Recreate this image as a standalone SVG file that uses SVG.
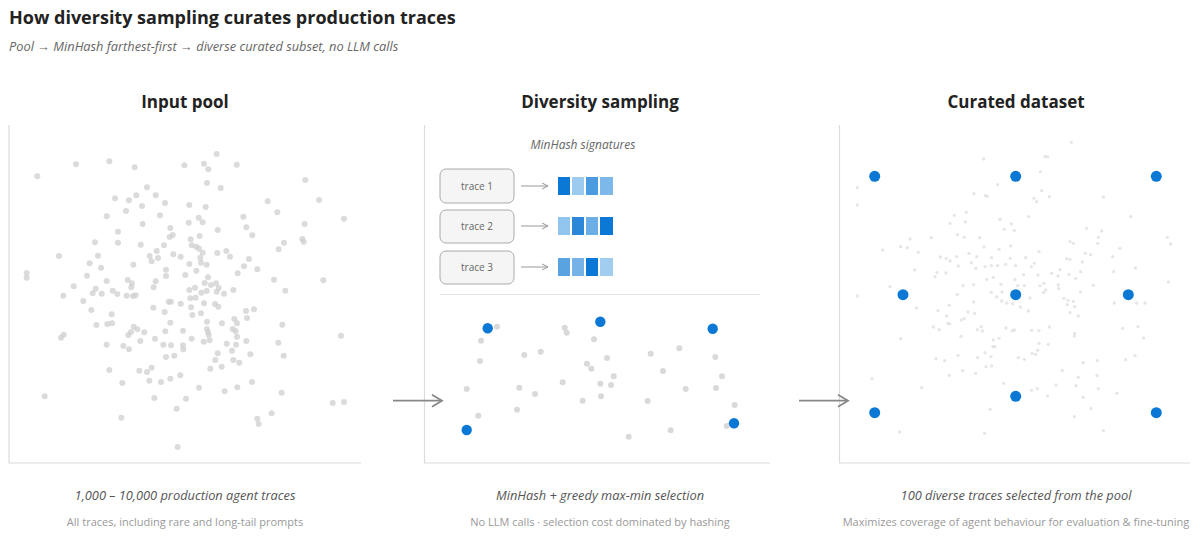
<svg xmlns="http://www.w3.org/2000/svg" width="1200" height="538" viewBox="0 0 1200 538">
<style>
text{font-family:"Open Sans","Noto Sans","Liberation Sans",sans-serif}
.title{font-size:18px;font-weight:700;fill:#222}
.sub{font-size:12.8px;font-style:italic;fill:#666}
.ptitle{font-size:17px;font-weight:700;fill:#222;text-anchor:middle}
.cap1{font-size:12.8px;font-style:italic;fill:#555;text-anchor:middle}
.cap2{font-size:11px;fill:#999;text-anchor:middle}
.axis{stroke:#dcdcdc;stroke-width:1.2;fill:none}
.sep{stroke:#e6e6e6;stroke-width:1;fill:none}
.d1 circle{fill:#cfcfcf;fill-opacity:.75}
.d2 circle{fill:#cfcfcf;fill-opacity:.8}
.d3 circle{fill:#dcdcdc;fill-opacity:.7}
.blue{fill:#0a78d4}
.box{fill:#f5f5f5;stroke:#aaaaaa;stroke-width:1}
.btxt{font-size:10px;fill:#666;text-anchor:middle}
.sarr{stroke:#999;stroke-width:1;fill:none}
.barr{stroke:#888;stroke-width:1.8;fill:none}
.mh{font-size:12px;font-style:italic;fill:#666;text-anchor:middle}
</style>
<defs>
<marker id="sm" markerWidth="8" markerHeight="8" refX="7" refY="4" orient="auto" markerUnits="userSpaceOnUse"><path d="M1,1 L7,4 L1,7" fill="none" stroke="#999" stroke-width="1"/></marker>
<marker id="bm" markerWidth="14" markerHeight="16" refX="12" refY="8" orient="auto" markerUnits="userSpaceOnUse"><path d="M2,2 L12,8 L2,14" fill="none" stroke="#888" stroke-width="1.8"/></marker>
</defs>
<rect width="1200" height="538" fill="#ffffff"/>
<text class="title" x="9" y="24">How diversity sampling curates production traces</text>
<text class="sub" x="9" y="51">Pool → MinHash farthest-first → diverse curated subset, no LLM calls</text>

<g id="panel-input">
<text class="ptitle" x="185" y="108">Input pool</text>
<path class="axis" d="M9,125 V463 H361"/>
<g class="d1" transform="translate(0,120) scale(0.33333)">
<circle cx="650" cy="102" r="9"/><circle cx="228" cy="133" r="9"/><circle cx="328" cy="124" r="9"/><circle cx="404" cy="142" r="9"/><circle cx="553" cy="136" r="9"/><circle cx="612" cy="131" r="9"/><circle cx="625" cy="148" r="9"/><circle cx="710" cy="134" r="9"/><circle cx="112" cy="169" r="9"/><circle cx="916" cy="180" r="9"/><circle cx="621" cy="189" r="9"/><circle cx="662" cy="204" r="9"/><circle cx="441" cy="202" r="9"/><circle cx="467" cy="226" r="9"/><circle cx="345" cy="235" r="9"/><circle cx="387" cy="241" r="9"/><circle cx="409" cy="226" r="9"/><circle cx="495" cy="249" r="9"/><circle cx="568" cy="255" r="9"/><circle cx="617" cy="261" r="9"/><circle cx="803" cy="244" r="9"/><circle cx="957" cy="240" r="9"/><circle cx="378" cy="273" r="9"/><circle cx="426" cy="258" r="9"/><circle cx="832" cy="277" r="9"/><circle cx="1032" cy="296" r="9"/><circle cx="320" cy="289" r="9"/><circle cx="480" cy="286" r="9"/><circle cx="730" cy="290" r="9"/><circle cx="596" cy="293" r="9"/><circle cx="608" cy="307" r="9"/><circle cx="566" cy="308" r="9"/><circle cx="428" cy="312" r="9"/><circle cx="914" cy="312" r="9"/><circle cx="511" cy="324" r="9"/><circle cx="653" cy="330" r="9"/><circle cx="739" cy="322" r="9"/><circle cx="354" cy="335" r="9"/><circle cx="518" cy="345" r="9"/><circle cx="509" cy="351" r="9"/><circle cx="599" cy="348" r="9"/><circle cx="757" cy="346" r="9"/><circle cx="285" cy="367" r="9"/><circle cx="354" cy="368" r="9"/><circle cx="422" cy="374" r="9"/><circle cx="492" cy="376" r="9"/><circle cx="572" cy="358" r="9"/><circle cx="575" cy="376" r="9"/><circle cx="589" cy="380" r="9"/><circle cx="597" cy="386" r="9"/><circle cx="608" cy="398" r="9"/><circle cx="652" cy="399" r="9"/><circle cx="679" cy="393" r="9"/><circle cx="690" cy="410" r="9"/><circle cx="836" cy="388" r="9"/><circle cx="852" cy="368" r="9"/><circle cx="907" cy="357" r="9"/><circle cx="911" cy="365" r="9"/><circle cx="177" cy="408" r="9"/><circle cx="294" cy="407" r="9"/><circle cx="449" cy="408" r="9"/><circle cx="470" cy="393" r="9"/><circle cx="474" cy="414" r="9"/><circle cx="455" cy="424" r="9"/><circle cx="520" cy="403" r="9"/><circle cx="542" cy="410" r="9"/><circle cx="601" cy="413" r="9"/><circle cx="603" cy="428" r="9"/><circle cx="620" cy="434" r="9"/><circle cx="747" cy="417" r="9"/><circle cx="269" cy="430" r="9"/><circle cx="303" cy="443" r="9"/><circle cx="400" cy="434" r="9"/><circle cx="568" cy="432" r="9"/><circle cx="732" cy="439" r="9"/><circle cx="772" cy="448" r="9"/><circle cx="80" cy="459" r="9"/><circle cx="80" cy="473" r="9"/><circle cx="261" cy="467" r="9"/><circle cx="498" cy="449" r="9"/><circle cx="498" cy="468" r="9"/><circle cx="556" cy="465" r="9"/><circle cx="589" cy="452" r="9"/><circle cx="624" cy="472" r="9"/><circle cx="713" cy="460" r="9"/><circle cx="970" cy="481" r="9"/><circle cx="822" cy="479" r="9"/><circle cx="320" cy="483" r="9"/><circle cx="383" cy="480" r="9"/><circle cx="396" cy="490" r="9"/><circle cx="394" cy="502" r="9"/><circle cx="467" cy="484" r="9"/><circle cx="461" cy="502" r="9"/><circle cx="614" cy="489" r="9"/><circle cx="633" cy="495" r="9"/><circle cx="648" cy="490" r="9"/><circle cx="656" cy="504" r="9"/><circle cx="700" cy="510" r="9"/><circle cx="221" cy="499" r="9"/><circle cx="287" cy="506" r="9"/><circle cx="190" cy="527" r="9"/><circle cx="278" cy="520" r="9"/><circle cx="305" cy="521" r="9"/><circle cx="338" cy="512" r="9"/><circle cx="352" cy="522" r="9"/><circle cx="380" cy="527" r="9"/><circle cx="399" cy="528" r="9"/><circle cx="407" cy="526" r="9"/><circle cx="568" cy="510" r="9"/><circle cx="585" cy="503" r="9"/><circle cx="604" cy="518" r="9"/><circle cx="620" cy="513" r="9"/><circle cx="650" cy="515" r="9"/><circle cx="672" cy="521" r="9"/><circle cx="856" cy="512" r="9"/><circle cx="250" cy="543" r="9"/><circle cx="506" cy="545" r="9"/><circle cx="513" cy="545" r="9"/><circle cx="542" cy="551" r="9"/><circle cx="571" cy="535" r="9"/><circle cx="587" cy="533" r="9"/><circle cx="612" cy="550" r="9"/><circle cx="645" cy="552" r="9"/><circle cx="655" cy="560" r="9"/><circle cx="460" cy="563" r="9"/><circle cx="494" cy="576" r="9"/><circle cx="573" cy="562" r="9"/><circle cx="577" cy="585" r="9"/><circle cx="603" cy="580" r="9"/><circle cx="274" cy="570" r="9"/><circle cx="335" cy="583" r="9"/><circle cx="322" cy="612" r="9"/><circle cx="336" cy="610" r="9"/><circle cx="289" cy="615" r="9"/><circle cx="738" cy="573" r="9"/><circle cx="762" cy="568" r="9"/><circle cx="741" cy="594" r="9"/><circle cx="511" cy="608" r="9"/><circle cx="621" cy="605" r="9"/><circle cx="666" cy="610" r="9"/><circle cx="703" cy="597" r="9"/><circle cx="711" cy="610" r="9"/><circle cx="847" cy="614" r="9"/><circle cx="401" cy="620" r="9"/><circle cx="412" cy="628" r="9"/><circle cx="393" cy="636" r="9"/><circle cx="385" cy="645" r="9"/><circle cx="433" cy="637" r="9"/><circle cx="496" cy="634" r="9"/><circle cx="549" cy="632" r="9"/><circle cx="621" cy="627" r="9"/><circle cx="624" cy="637" r="9"/><circle cx="626" cy="645" r="9"/><circle cx="698" cy="627" r="9"/><circle cx="707" cy="633" r="9"/><circle cx="711" cy="650" r="9"/><circle cx="183" cy="653" r="9"/><circle cx="191" cy="644" r="9"/><circle cx="1023" cy="647" r="9"/><circle cx="320" cy="674" r="9"/><circle cx="370" cy="678" r="9"/><circle cx="387" cy="688" r="9"/><circle cx="421" cy="663" r="9"/><circle cx="465" cy="656" r="9"/><circle cx="490" cy="674" r="9"/><circle cx="513" cy="676" r="9"/><circle cx="549" cy="676" r="9"/><circle cx="550" cy="688" r="9"/><circle cx="575" cy="656" r="9"/><circle cx="611" cy="665" r="9"/><circle cx="629" cy="661" r="9"/><circle cx="680" cy="671" r="9"/><circle cx="708" cy="674" r="9"/><circle cx="739" cy="663" r="9"/><circle cx="835" cy="668" r="9"/><circle cx="498" cy="711" r="9"/><circle cx="523" cy="707" r="9"/><circle cx="653" cy="700" r="9"/><circle cx="646" cy="720" r="9"/><circle cx="696" cy="692" r="9"/><circle cx="700" cy="720" r="9"/><circle cx="718" cy="728" r="9"/><circle cx="751" cy="703" r="9"/><circle cx="851" cy="707" r="9"/><circle cx="328" cy="750" r="9"/><circle cx="418" cy="752" r="9"/><circle cx="441" cy="756" r="9"/><circle cx="455" cy="743" r="9"/><circle cx="631" cy="746" r="9"/><circle cx="665" cy="740" r="9"/><circle cx="367" cy="789" r="9"/><circle cx="448" cy="782" r="9"/><circle cx="483" cy="786" r="9"/><circle cx="511" cy="776" r="9"/><circle cx="541" cy="766" r="9"/><circle cx="597" cy="803" r="9"/><circle cx="674" cy="814" r="9"/><circle cx="712" cy="802" r="9"/><circle cx="756" cy="786" r="9"/><circle cx="845" cy="818" r="9"/><circle cx="134" cy="829" r="9"/><circle cx="463" cy="834" r="9"/><circle cx="558" cy="836" r="9"/><circle cx="998" cy="849" r="9"/><circle cx="1032" cy="846" r="9"/><circle cx="530" cy="866" r="9"/><circle cx="815" cy="880" r="9"/><circle cx="772" cy="896" r="9"/><circle cx="776" cy="912" r="9"/><circle cx="364" cy="893" r="9"/><circle cx="533" cy="981" r="9"/>
</g>
<text class="cap1" x="185" y="500">1,000 – 10,000 production agent traces</text>
<text class="cap2" x="185" y="526">All traces, including rare and long-tail prompts</text>
</g>

<g id="panel-sampling">
<text class="ptitle" x="600" y="108">Diversity sampling</text>
<path class="axis" d="M424.5,125 V463 H770"/>
<text class="mh" x="583" y="149">MinHash signatures</text>
<g id="trace1">
<rect class="box" x="440" y="169" width="74" height="34" rx="6"/>
<text class="btxt" x="477" y="189.5">trace 1</text>
<rect x="558" y="177" width="12" height="18" fill="#0a78d4"/><rect x="572" y="177" width="12" height="18" fill="#9ccbef"/><rect x="586" y="177" width="12" height="18" fill="#4a9be0"/><rect x="600" y="177" width="13" height="18" fill="#7cb8ea"/>
</g>
<g id="trace2">
<rect class="box" x="440" y="210" width="74" height="33" rx="6"/>
<text class="btxt" x="477" y="230">trace 2</text>
<rect x="558" y="217" width="12" height="18" fill="#92c5ee"/><rect x="572" y="217" width="12" height="18" fill="#2b88d8"/><rect x="586" y="217" width="12" height="18" fill="#6cafe6"/><rect x="600" y="217" width="13" height="18" fill="#0a78d4"/>
</g>
<g id="trace3">
<rect class="box" x="440" y="251" width="74" height="33" rx="6"/>
<text class="btxt" x="477" y="271">trace 3</text>
<rect x="558" y="258" width="12" height="18" fill="#5aa3e1"/><rect x="572" y="258" width="12" height="18" fill="#74b2e8"/><rect x="586" y="258" width="12" height="18" fill="#0a78d4"/><rect x="600" y="258" width="13" height="18" fill="#a0cdf0"/>
</g>
<line class="sep" x1="440" y1="294.5" x2="760" y2="294.5"/>
<g class="d2">
<circle cx="497" cy="326.7" r="3"/><circle cx="481" cy="340.7" r="3"/><circle cx="480" cy="361" r="3"/><circle cx="466.7" cy="389" r="3"/><circle cx="478.3" cy="415.7" r="3"/><circle cx="524.3" cy="355" r="3"/><circle cx="540.7" cy="351.7" r="3"/><circle cx="519.3" cy="387.7" r="3"/><circle cx="535" cy="394" r="3"/><circle cx="517" cy="409.7" r="3"/><circle cx="564.7" cy="327.7" r="3"/><circle cx="566.7" cy="332.7" r="3"/><circle cx="562.7" cy="382.3" r="3"/><circle cx="582.7" cy="400.7" r="3"/><circle cx="594" cy="339.3" r="3"/><circle cx="587" cy="363.7" r="3"/><circle cx="591.3" cy="368.7" r="3"/><circle cx="607" cy="358" r="3"/><circle cx="613.7" cy="376.3" r="3"/><circle cx="611" cy="385" r="3"/><circle cx="600.3" cy="383.7" r="3"/><circle cx="601" cy="396.3" r="3"/><circle cx="628.7" cy="436.7" r="3"/><circle cx="650.7" cy="353.7" r="3"/><circle cx="647.7" cy="401" r="3"/><circle cx="663" cy="371" r="3"/><circle cx="679.3" cy="348.3" r="3"/><circle cx="685.7" cy="389" r="3"/><circle cx="670.7" cy="430.3" r="3"/><circle cx="715.3" cy="357" r="3"/><circle cx="722" cy="376.3" r="3"/><circle cx="716" cy="388" r="3"/><circle cx="734.7" cy="405" r="3"/><circle cx="726.7" cy="426" r="3"/>
</g>
<circle class="blue" cx="487.7" cy="328.3" r="5.2"/><circle class="blue" cx="600.3" cy="321.7" r="5.2"/><circle class="blue" cx="712.7" cy="328.7" r="5.2"/><circle class="blue" cx="466.7" cy="430" r="5.2"/><circle class="blue" cx="734" cy="423.3" r="5.2"/>
<text class="cap1" x="600" y="500">MinHash + greedy max-min selection</text>
<text class="cap2" x="600" y="526">No LLM calls · selection cost dominated by hashing</text>
</g>

<g id="panel-curated">
<text class="ptitle" x="1016" y="108">Curated dataset</text>
<path class="axis" d="M839.5,125 V463 H1190"/>
<g class="d3" transform="translate(830,120) scale(0.33333)">
<circle cx="724" cy="67" r="5"/><circle cx="645" cy="110" r="5"/><circle cx="653" cy="110" r="5"/><circle cx="461" cy="117" r="5"/><circle cx="631" cy="155" r="5"/><circle cx="82" cy="203" r="5"/><circle cx="503" cy="194" r="5"/><circle cx="635" cy="212" r="5"/><circle cx="658" cy="230" r="5"/><circle cx="466" cy="227" r="5"/><circle cx="472" cy="229" r="5"/><circle cx="432" cy="221" r="5"/><circle cx="612" cy="235" r="5"/><circle cx="620" cy="245" r="5"/><circle cx="820" cy="231" r="5"/><circle cx="82" cy="255" r="5"/><circle cx="596" cy="290" r="5"/><circle cx="902" cy="290" r="5"/><circle cx="510" cy="298" r="5"/><circle cx="373" cy="286" r="5"/><circle cx="409" cy="277" r="5"/><circle cx="406" cy="306" r="5"/><circle cx="360" cy="310" r="5"/><circle cx="544" cy="312" r="5"/><circle cx="523" cy="328" r="5"/><circle cx="553" cy="331" r="5"/><circle cx="770" cy="325" r="5"/><circle cx="815" cy="333" r="5"/><circle cx="805" cy="352" r="5"/><circle cx="803" cy="370" r="5"/><circle cx="1012" cy="352" r="5"/><circle cx="1022" cy="372" r="5"/><circle cx="383" cy="344" r="5"/><circle cx="403" cy="352" r="5"/><circle cx="449" cy="353" r="5"/><circle cx="304" cy="353" r="5"/><circle cx="240" cy="357" r="5"/><circle cx="212" cy="380" r="5"/><circle cx="232" cy="383" r="5"/><circle cx="158" cy="390" r="5"/><circle cx="265" cy="397" r="5"/><circle cx="542" cy="378" r="5"/><circle cx="507" cy="388" r="5"/><circle cx="462" cy="381" r="5"/><circle cx="417" cy="400" r="5"/><circle cx="440" cy="410" r="5"/><circle cx="485" cy="413" r="5"/><circle cx="380" cy="410" r="5"/><circle cx="349" cy="415" r="5"/><circle cx="360" cy="423" r="5"/><circle cx="331" cy="411" r="5"/><circle cx="627" cy="395" r="5"/><circle cx="587" cy="413" r="5"/><circle cx="541" cy="415" r="5"/><circle cx="710" cy="416" r="5"/><circle cx="720" cy="418" r="5"/><circle cx="720" cy="365" r="5"/><circle cx="730" cy="370" r="5"/><circle cx="766" cy="400" r="5"/><circle cx="782" cy="404" r="5"/><circle cx="757" cy="426" r="5"/><circle cx="848" cy="410" r="5"/><circle cx="870" cy="385" r="5"/><circle cx="916" cy="444" r="5"/><circle cx="254" cy="450" r="5"/><circle cx="348" cy="459" r="5"/><circle cx="385" cy="438" r="5"/><circle cx="424" cy="428" r="5"/><circle cx="438" cy="445" r="5"/><circle cx="465" cy="440" r="5"/><circle cx="503" cy="437" r="5"/><circle cx="484" cy="437" r="5"/><circle cx="527" cy="433" r="5"/><circle cx="557" cy="437" r="5"/><circle cx="581" cy="464" r="5"/><circle cx="604" cy="440" r="5"/><circle cx="613" cy="430" r="5"/><circle cx="624" cy="465" r="5"/><circle cx="665" cy="460" r="5"/><circle cx="690" cy="449" r="5"/><circle cx="684" cy="468" r="5"/><circle cx="717" cy="463" r="5"/><circle cx="737" cy="475" r="5"/><circle cx="752" cy="455" r="5"/><circle cx="851" cy="455" r="5"/><circle cx="630" cy="497" r="5"/><circle cx="642" cy="490" r="5"/><circle cx="583" cy="497" r="5"/><circle cx="555" cy="479" r="5"/><circle cx="563" cy="497" r="5"/><circle cx="513" cy="493" r="5"/><circle cx="490" cy="472" r="5"/><circle cx="470" cy="478" r="5"/><circle cx="431" cy="494" r="5"/><circle cx="399" cy="497" r="5"/><circle cx="321" cy="458" r="5"/><circle cx="315" cy="470" r="5"/><circle cx="180" cy="500" r="5"/><circle cx="82" cy="528" r="5"/><circle cx="259" cy="564" r="5"/><circle cx="324" cy="572" r="5"/><circle cx="358" cy="556" r="5"/><circle cx="382" cy="523" r="5"/><circle cx="431" cy="546" r="5"/><circle cx="414" cy="576" r="5"/><circle cx="434" cy="580" r="5"/><circle cx="403" cy="596" r="5"/><circle cx="394" cy="600" r="5"/><circle cx="350" cy="588" r="5"/><circle cx="359" cy="612" r="5"/><circle cx="484" cy="517" r="5"/><circle cx="500" cy="531" r="5"/><circle cx="515" cy="543" r="5"/><circle cx="516" cy="516" r="5"/><circle cx="530" cy="549" r="5"/><circle cx="571" cy="561" r="5"/><circle cx="548" cy="551" r="5"/><circle cx="595" cy="573" r="5"/><circle cx="600" cy="534" r="5"/><circle cx="641" cy="517" r="5"/><circle cx="647" cy="510" r="5"/><circle cx="685" cy="495" r="5"/><circle cx="686" cy="506" r="5"/><circle cx="702" cy="535" r="5"/><circle cx="714" cy="541" r="5"/><circle cx="730" cy="544" r="5"/><circle cx="712" cy="554" r="5"/><circle cx="734" cy="560" r="5"/><circle cx="745" cy="588" r="5"/><circle cx="751" cy="516" r="5"/><circle cx="790" cy="496" r="5"/><circle cx="853" cy="549" r="5"/><circle cx="920" cy="549" r="5"/><circle cx="945" cy="549" r="5"/><circle cx="1015" cy="486" r="5"/><circle cx="310" cy="621" r="5"/><circle cx="328" cy="629" r="5"/><circle cx="353" cy="610" r="5"/><circle cx="393" cy="649" r="5"/><circle cx="442" cy="629" r="5"/><circle cx="454" cy="620" r="5"/><circle cx="457" cy="633" r="5"/><circle cx="495" cy="680" r="5"/><circle cx="490" cy="660" r="5"/><circle cx="507" cy="655" r="5"/><circle cx="528" cy="624" r="5"/><circle cx="547" cy="632" r="5"/><circle cx="553" cy="630" r="5"/><circle cx="605" cy="631" r="5"/><circle cx="627" cy="632" r="5"/><circle cx="658" cy="621" r="5"/><circle cx="720" cy="578" r="5"/><circle cx="734" cy="640" r="5"/><circle cx="733" cy="648" r="5"/><circle cx="878" cy="625" r="5"/><circle cx="924" cy="620" r="5"/><circle cx="941" cy="654" r="5"/><circle cx="212" cy="656" r="5"/><circle cx="318" cy="716" r="5"/><circle cx="344" cy="722" r="5"/><circle cx="358" cy="766" r="5"/><circle cx="384" cy="706" r="5"/><circle cx="398" cy="752" r="5"/><circle cx="437" cy="760" r="5"/><circle cx="443" cy="713" r="5"/><circle cx="465" cy="698" r="5"/><circle cx="483" cy="710" r="5"/><circle cx="468" cy="740" r="5"/><circle cx="485" cy="738" r="5"/><circle cx="489" cy="680" r="5"/><circle cx="565" cy="713" r="5"/><circle cx="583" cy="718" r="5"/><circle cx="606" cy="700" r="5"/><circle cx="617" cy="703" r="5"/><circle cx="623" cy="691" r="5"/><circle cx="627" cy="670" r="5"/><circle cx="655" cy="673" r="5"/><circle cx="697" cy="752" r="5"/><circle cx="745" cy="772" r="5"/><circle cx="760" cy="728" r="5"/><circle cx="801" cy="767" r="5"/><circle cx="802" cy="722" r="5"/><circle cx="805" cy="806" r="5"/><circle cx="860" cy="820" r="5"/><circle cx="887" cy="719" r="5"/><circle cx="915" cy="707" r="5"/><circle cx="126" cy="776" r="5"/><circle cx="275" cy="803" r="5"/><circle cx="521" cy="790" r="5"/><circle cx="605" cy="811" r="5"/><circle cx="622" cy="806" r="5"/><circle cx="653" cy="828" r="5"/><circle cx="678" cy="795" r="5"/><circle cx="738" cy="797" r="5"/><circle cx="760" cy="832" r="5"/><circle cx="783" cy="866" r="5"/><circle cx="733" cy="890" r="5"/><circle cx="480" cy="868" r="5"/><circle cx="464" cy="940" r="5"/><circle cx="209" cy="936" r="5"/><circle cx="820" cy="932" r="5"/>
</g>
<circle class="blue" cx="874.7" cy="176.3" r="5.5"/><circle class="blue" cx="1015.7" cy="176.3" r="5.5"/><circle class="blue" cx="1156.3" cy="176.3" r="5.5"/><circle class="blue" cx="903" cy="294.7" r="5.5"/><circle class="blue" cx="1015.7" cy="294.7" r="5.5"/><circle class="blue" cx="1128.3" cy="294.7" r="5.5"/><circle class="blue" cx="874.7" cy="412.7" r="5.5"/><circle class="blue" cx="1015.7" cy="396.3" r="5.5"/><circle class="blue" cx="1156.3" cy="412.7" r="5.5"/>
<text class="cap1" x="1016" y="500">100 diverse traces selected from the pool</text>
<text class="cap2" x="1016" y="526">Maximizes coverage of agent behaviour for evaluation &amp; fine-tuning</text>
</g>

<g id="connectors">
<line class="sarr" x1="521" y1="186" x2="548" y2="186" marker-end="url(#sm)"/>
<line class="sarr" x1="521" y1="226" x2="548" y2="226" marker-end="url(#sm)"/>
<line class="sarr" x1="521" y1="267" x2="548" y2="267" marker-end="url(#sm)"/>
<line class="barr" x1="393" y1="400.7" x2="442" y2="400.7" marker-end="url(#bm)"/>
<line class="barr" x1="799" y1="400.7" x2="848" y2="400.7" marker-end="url(#bm)"/>
</g>
</svg>
